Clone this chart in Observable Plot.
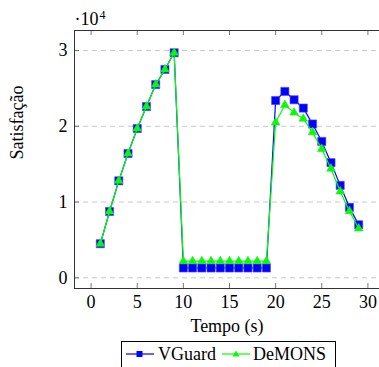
<!DOCTYPE html>
<html>
<head>
<meta charset="utf-8">
<script src="https://cdn.jsdelivr.net/npm/d3@7"></script>
<script src="https://cdn.jsdelivr.net/npm/@observablehq/plot@0.6"></script>
<style>
  html, body { margin: 0; padding: 0; background: white; overflow: hidden; width: 379px; height: 367px; }
  #wrap { position: relative; width: 379px; height: 367px; font-family: "Liberation Serif", serif; }
  #chart svg text { font-family: "Liberation Serif", serif !important; }
  #legend { position: absolute; left: 121px; top: 341px; width: 215px; height: 30px; border: 1px solid #000; box-sizing: border-box; background: white; }
  .lg { position: absolute; top: 0; font-size: 18px; line-height: 24px; color: #000; }
</style>
</head>
<body>
<div id="wrap">
  <div id="chart"></div>
  <div id="legend"></div>
</div>
<script>
const time = [1,2,3,4,5,6,7,8,9,10,11,12,13,14,15,16,17,18,19,20,21,22,23,24,25,26,27,28,29];
const vguard = [4500,8750,12800,16400,19700,22600,25500,27500,29700,
  1300,1300,1300,1300,1300,1300,1300,1300,1300,1300,
  23400,24600,23500,22400,20300,18000,15200,12200,9300,7000];
const demons = [4500,8750,12800,16400,19700,22600,25500,27500,29700,
  2200,2200,2200,2200,2200,2200,2200,2200,2200,2200,
  20500,22800,21800,21000,19200,17000,14400,11400,8800,6500];
const xTicks = [0,5,10,15,20,25,30];
const yTicks = [0,10000,20000,30000];
const seriesNames = ["VGuard","DeMONS"];
const seriesColors = ["#0000ff","#00ff00"];
const xLabel = "Tempo (s)";
const yLabel = "Satisfação";

const vData = time.map((t,i) => ({t, v: vguard[i]}));
const dData = time.map((t,i) => ({t, v: demons[i]}));
const xDom = [-1.8, 31.8];
const yDom = [-1410, 32640];
const ff = "Liberation Serif";

const plot = Plot.plot({
  width: 379,
  height: 338,
  marginLeft: 74,
  marginTop: 30,
  marginBottom: 50,
  marginRight: 0,
  style: {fontFamily: ff, fontSize: "18px", background: "white", overflow: "hidden"},
  x: {domain: xDom, range: [74, 384]},
  y: {domain: yDom, range: [288, 30]},
  marks: [
    Plot.ruleY(yTicks, {stroke: "#c8c8c8", strokeDasharray: "5,4", strokeWidth: 1}),
    Plot.ruleX(xTicks, {y1: yDom[0], y2: yDom[0], insetTop: -5, stroke: "#555", strokeWidth: 0.8}),
    Plot.ruleX(xTicks, {y1: yDom[1], y2: yDom[1], insetBottom: -5, stroke: "#555", strokeWidth: 0.8}),
    Plot.ruleY(yTicks, {x1: xDom[0], x2: xDom[0], insetRight: -5, stroke: "#555", strokeWidth: 0.8}),
    Plot.frame({stroke: "#333", strokeWidth: 1}),
    Plot.axisX({ticks: xTicks, tickSize: 0, tickPadding: 7, label: null, fontSize: 18, fontFamily: ff}),
    Plot.axisY({ticks: yTicks, tickSize: 0, tickPadding: 7, tickFormat: d => String(d / 10000), label: null, fontSize: 18, fontFamily: ff}),
    Plot.text([xLabel], {frameAnchor: "bottom", lineAnchor: "top", dy: 31, fontSize: 18, fontFamily: ff, fill: "black"}),
    Plot.text([yLabel], {frameAnchor: "left", dx: -57, rotate: -90, fontSize: 18, fontFamily: ff, fill: "black"}),
    Plot.line(vData, {x: "t", y: "v", stroke: seriesColors[0], strokeWidth: 1.2}),
    Plot.dot(vData, {x: "t", y: "v", symbol: "square", r: 4.6, fill: seriesColors[0], stroke: "#4d4dff", strokeWidth: 0.6}),
    Plot.line(dData, {x: "t", y: "v", stroke: seriesColors[1], strokeWidth: 1.2}),
    Plot.dot(dData, {x: "t", y: "v", symbol: "triangle", r: 3.2, fill: seriesColors[1], stroke: "#33dd33", strokeWidth: 0.6}),
    Plot.text(["·10"], {frameAnchor: "top-left", textAnchor: "start", dx: 0, dy: -18, fontSize: 18, fontFamily: ff, fill: "black"}),
    Plot.text(["4"], {frameAnchor: "top-left", textAnchor: "start", dx: 25, dy: -20, fontSize: 12, fontFamily: ff, fill: "black"})
  ]
});
document.getElementById("chart").appendChild(plot);

// Legend
const legend = document.getElementById("legend");
const entries = [
  {name: seriesNames[0], color: seriesColors[0], sym: "square", lineX: 4, textX: 36},
  {name: seriesNames[1], color: seriesColors[1], sym: "triangle", lineX: 100, textX: 131}
];
for (const e of entries) {
  const ns = "http://www.w3.org/2000/svg";
  const s = document.createElementNS(ns, "svg");
  s.setAttribute("width", 30); s.setAttribute("height", 24);
  s.style.position = "absolute"; s.style.left = e.lineX + "px"; s.style.top = "0px";
  const l = document.createElementNS(ns, "line");
  l.setAttribute("x1", 0); l.setAttribute("x2", 28); l.setAttribute("y1", 12); l.setAttribute("y2", 12);
  l.setAttribute("stroke", e.color); l.setAttribute("stroke-width", 1.2);
  s.appendChild(l);
  if (e.sym === "square") {
    const r = document.createElementNS(ns, "rect");
    r.setAttribute("x", 10.5); r.setAttribute("y", 9); r.setAttribute("width", 6); r.setAttribute("height", 6);
    r.setAttribute("fill", e.color);
    s.appendChild(r);
  } else {
    const p = document.createElementNS(ns, "path");
    p.setAttribute("d", "M14,8.5 L17.5,14.5 L10.5,14.5 Z");
    p.setAttribute("fill", e.color);
    s.appendChild(p);
  }
  legend.appendChild(s);
  const t = document.createElement("div");
  t.className = "lg"; t.style.left = e.textX + "px"; t.textContent = e.name;
  legend.appendChild(t);
}
</script>
</body>
</html>
